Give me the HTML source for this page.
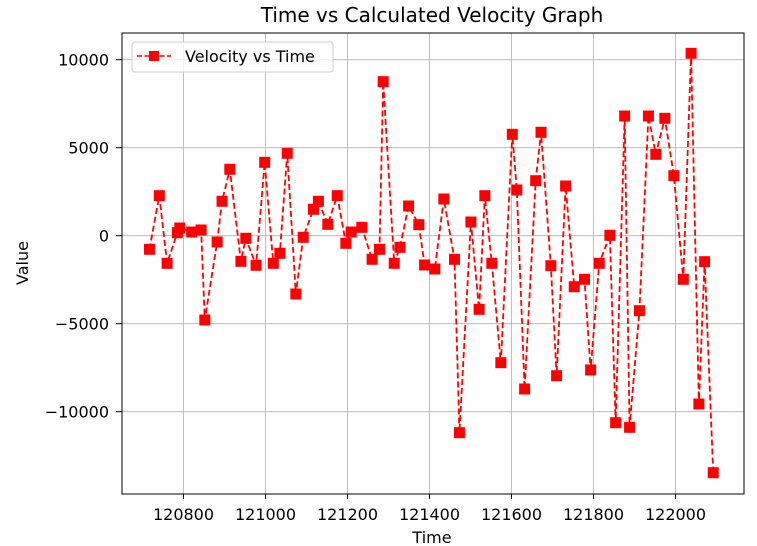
<!DOCTYPE html>
<html><head><meta charset="utf-8"><style>
body{margin:0;background:#fff;}
svg{display:block;font-family:"DejaVu Sans","Liberation Sans",sans-serif;}
</style></head><body>
<svg id="chart" width="757" height="546">
<text x="432" y="22" text-anchor="middle" font-size="20" fill="#000">Time vs Calculated Velocity Graph</text>
<text x="432" y="543" text-anchor="middle" font-size="16">Time</text>
<text x="28" y="263" text-anchor="middle" font-size="16" transform="rotate(-90 28 263)">Value</text>
<g id="grid"></g><g id="ticks"></g><g id="series"></g>
<rect x="122" y="33" width="622" height="461" fill="none" stroke="#000" stroke-width="1"/>
<g>
<rect x="132" y="42" width="201" height="30" rx="3" fill="#fff" fill-opacity="0.8" stroke="#ccc"/>
<line x1="137" y1="56" x2="171" y2="56" stroke="red" stroke-width="1.5" stroke-dasharray="5,2.5"/>
<rect x="149" y="51" width="10" height="10" fill="red"/>
<text x="185" y="62" font-size="16">Velocity vs Time</text>
</g>
</svg>
<script>
const times=[120717,120741,120760,120785,120791,120820,120843,120852,120882,120894,120913,120940,120952,120977,120998,121019,121035,121053,121074,121092,121117,121129,121152,121175,121196,121209,121235,121260,121278,121287,121314,121328,121349,121374,121388,121413,121435,121461,121473,121501,121521,121535,121552,121574,121602,121613,121632,121659,121672,121696,121710,121732,121753,121778,121793,121814,121840,121854,121876,121888,121912,121934,121952,121974,121996,122019,122038,122057,122071,122092];
const velocities=[-773,2273,-1568,170,437,210,324,-4790,-358,1955,3773,-1455,-148,-1682,4170,-1568,-1000,4682,-3312,-91,1500,1955,648,2273,-432,210,477,-1341,-773,8750,-1568,-659,1688,625,-1665,-1892,2085,-1341,-11193,778,-4182,2273,-1568,-7216,5761,2597,-8710,3125,5875,-1705,-7955,2824,-2898,-2477,-7630,-1568,23,-10625,6800,-10886,-4261,6800,4625,6670,3409,-2477,10364,-9562,-1477,-13466];
const xTicks=[120800,121000,121200,121400,121600,121800,122000];
const yTicks=[-10000,-5000,0,5000,10000];
const NS="http://www.w3.org/2000/svg";
function xs(t){return 183.5+(t-120800)*0.41;}
function ys(v){return 235.7-v*0.0176;}
function mk(tag,attrs,parent){const e=document.createElementNS(NS,tag);for(const k in attrs)e.setAttribute(k,attrs[k]);parent.appendChild(e);return e;}
const grid=document.getElementById('grid'),ticks=document.getElementById('ticks'),series=document.getElementById('series');
xTicks.forEach(t=>{const x=xs(t);
 const g=mk('line',{x1:x,x2:x,y1:33,y2:494,stroke:'#b0b0b0','stroke-width':0.8},grid);
 
 
 mk('line',{x1:x,x2:x,y1:494,y2:499,stroke:'#000'},ticks);
 const l=mk('text',{x:x,y:520,'text-anchor':'middle','font-size':16},ticks);l.textContent=t;
 
 
});
yTicks.forEach(v=>{const y=ys(v);
 const g=mk('line',{x1:122,x2:744,y1:y,y2:y,stroke:'#b0b0b0','stroke-width':0.8},grid);
 
 
 mk('line',{x1:116,x2:122,y1:y,y2:y,stroke:'#000'},ticks);
 const l=mk('text',{x:109,y:y+6,'text-anchor':'end','font-size':16},ticks);l.textContent=(v<0?'\u2212'+(-v):v);
 
 
});
const pts=times.map((t,i)=>xs(t)+','+ys(velocities[i])).join(' ');
const line=mk('polyline',{points:pts,fill:'none',stroke:'red','stroke-width':1.8,'stroke-dasharray':'6,3'},series);


times.forEach((t,i)=>{
 const r=mk('rect',{x:xs(t)-5.5,y:ys(velocities[i])-5.5,width:11,height:11,fill:'red'},series);
 
 
});
</script>
</body></html>
